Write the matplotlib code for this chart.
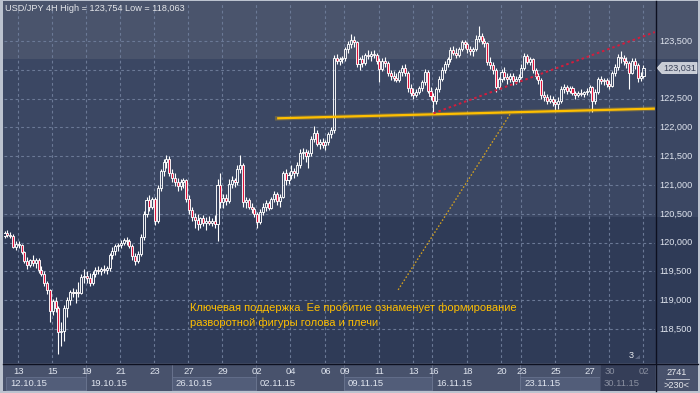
import matplotlib
matplotlib.use("Agg")
import matplotlib.pyplot as plt
from matplotlib.patches import Rectangle, Polygon
from matplotlib.transforms import blended_transform_factory
from matplotlib.lines import Line2D

plt.rcParams['font.family'] = ['Liberation Sans', 'DejaVu Sans']

# ---------------- data (USD/JPY 4H bars, 12.10.15 - 02.12.15) ----------------
opens = [
    120.12, 120.16, 120.14, 120.12, 119.93,
    119.98, 119.95, 119.83, 119.68, 119.62, 119.70,
    119.64, 119.70, 119.52, 119.46, 119.30, 119.18,
    118.82, 118.98, 118.86, 118.44, 118.46, 118.86,
    119.00, 119.14, 119.12, 119.15, 119.13, 119.40,
    119.42, 119.38, 119.30, 119.46, 119.52, 119.50,
    119.54, 119.53, 119.56, 119.78, 119.85, 119.94,
    119.96, 120.00, 120.04, 120.02, 119.94, 119.76,
    119.68, 119.80, 120.10, 120.50, 120.74, 120.62,
    120.76, 120.38, 120.95, 121.24, 121.40, 121.46,
    121.20, 121.12, 121.05, 120.98, 121.06, 121.08,
    120.76, 120.56, 120.44, 120.40, 120.32, 120.42,
    120.34, 120.38, 120.34, 120.38, 120.32, 121.00,
    120.70, 120.78, 120.72, 121.02, 121.08, 121.05,
    121.28, 121.35, 120.70, 120.74, 120.62, 120.58,
    120.50, 120.36, 120.54, 120.62, 120.68, 120.60,
    120.76, 120.84, 120.72, 120.80, 121.20, 121.08,
    121.18, 121.24, 121.20, 121.35, 121.55, 121.58,
    121.50, 121.55, 121.80, 121.90, 121.72, 121.75,
    121.70, 121.74, 121.88, 121.95, 123.20, 123.15,
    123.18,
    123.20, 123.36, 123.44, 123.52, 123.48, 123.10,
    123.18, 123.12, 123.26, 123.24, 123.28, 123.26,
    123.16, 123.02, 123.16, 123.12, 122.95, 122.90,
    122.86, 122.82, 122.96, 123.04, 122.94, 122.68,
    122.60, 122.56, 122.62, 122.68, 122.78, 122.96,
    122.64,
    122.55, 122.45, 122.66, 122.84, 123.00, 123.10,
    123.18, 123.34, 123.30, 123.26, 123.36, 123.48,
    123.44, 123.36, 123.32, 123.36, 123.54, 123.58,
    123.50, 123.46, 123.14, 123.08, 123.00, 122.70,
    122.84, 122.96, 122.88, 122.84, 122.90, 122.80,
    122.84,
    122.88, 123.04, 123.24, 123.14, 123.18, 123.00,
    122.90, 122.82, 122.56, 122.52, 122.46, 122.50,
    122.44, 122.40, 122.46, 122.66, 122.70, 122.64,
    122.68, 122.60, 122.56, 122.60, 122.58, 122.62,
    122.64, 122.70, 122.45, 122.62, 122.84, 122.80,
    122.82,
    122.76, 122.72, 122.94, 123.05, 123.22, 123.20,
    123.16, 123.12, 122.95, 123.16, 123.08, 122.86,
    122.90,
]
highs = [
    120.20, 120.22, 120.18, 120.15, 120.02,
    120.02, 119.97, 119.86, 119.75, 119.72, 119.78,
    119.74, 119.73, 119.60, 119.50, 119.33, 119.20,
    119.02, 119.05, 118.90, 118.62, 118.92, 119.05,
    119.18, 119.22, 119.20, 119.32, 119.45, 119.55,
    119.50, 119.48, 119.50, 119.58, 119.60, 119.58,
    119.62, 119.60, 119.82, 119.92, 119.98, 120.00,
    120.05, 120.08, 120.10, 120.06, 119.98, 119.82,
    119.85, 120.15, 120.55, 120.80, 120.82, 120.80,
    120.80, 121.00, 121.28, 121.45, 121.52, 121.50,
    121.28, 121.20, 121.12, 121.10, 121.12, 121.10,
    120.82, 120.62, 120.52, 120.50, 120.45, 120.48,
    120.44, 120.46, 120.42, 120.48, 121.10, 121.20,
    120.85, 120.85, 121.10, 121.15, 121.12, 121.35,
    121.52, 121.38, 120.80, 120.78, 120.68, 120.62,
    120.54, 120.58, 120.68, 120.74, 120.72, 120.80,
    120.90, 120.88, 120.85, 121.25, 121.28, 121.22,
    121.35, 121.30, 121.40, 121.62, 121.65, 121.62,
    121.60, 121.85, 122.02, 121.95, 121.80, 121.82,
    121.78, 121.92, 122.00, 123.25, 123.28, 123.22,
    123.24,
    123.40, 123.50, 123.62, 123.58, 123.50, 123.22,
    123.25, 123.30, 123.35, 123.32, 123.34, 123.30,
    123.20, 123.20, 123.22, 123.16, 123.00, 122.98,
    122.95, 123.00, 123.08, 123.10, 122.98, 122.75,
    122.68, 122.66, 122.72, 122.82, 123.02, 123.00,
    122.70,
    122.60, 122.70, 122.90, 123.05, 123.15, 123.22,
    123.40, 123.42, 123.38, 123.40, 123.52, 123.52,
    123.48, 123.42, 123.40, 123.60, 123.754, 123.64,
    123.55, 123.48, 123.22, 123.14, 123.04, 122.88,
    123.02, 123.05, 122.95, 122.95, 122.94, 122.90,
    122.92,
    123.10, 123.30, 123.28, 123.22, 123.20, 123.04,
    122.94, 122.86, 122.64, 122.58, 122.56, 122.54,
    122.50, 122.52, 122.72, 122.76, 122.74, 122.72,
    122.72, 122.64, 122.64, 122.66, 122.64, 122.68,
    122.74, 122.72, 122.66, 122.88, 122.90, 122.86,
    122.85,
    122.82, 122.98, 123.10, 123.28, 123.33, 123.26,
    123.22, 123.15, 123.20, 123.20, 123.12, 122.96,
    123.08,
]
lows = [
    120.08, 120.10, 120.08, 119.90, 119.88,
    119.90, 119.80, 119.64, 119.55, 119.58, 119.60,
    119.56, 119.48, 119.42, 119.25, 119.10, 118.62,
    118.75, 118.80, 118.06, 118.20, 118.30, 118.70,
    118.92, 119.05, 118.95, 119.05, 119.10, 119.30,
    119.30, 119.25, 119.27, 119.40, 119.45, 119.44,
    119.48, 119.45, 119.50, 119.72, 119.78, 119.86,
    119.90, 119.95, 119.96, 119.90, 119.70, 119.62,
    119.64, 119.76, 120.05, 120.45, 120.55, 120.58,
    120.30, 120.34, 120.90, 121.15, 121.30, 121.15,
    121.05, 120.98, 120.90, 120.92, 120.95, 120.70,
    120.50, 120.38, 120.25, 120.22, 120.25, 120.28,
    120.22, 120.30, 120.28, 120.25, 120.02, 120.60,
    120.60, 120.65, 120.68, 120.95, 120.96, 121.00,
    121.20, 120.62, 120.60, 120.58, 120.52, 120.45,
    120.25, 120.32, 120.48, 120.55, 120.56, 120.58,
    120.70, 120.66, 120.62, 120.78, 121.00, 121.02,
    121.10, 121.12, 121.15, 121.30, 121.45, 121.40,
    121.30, 121.50, 121.75, 121.68, 121.62, 121.65,
    121.60, 121.70, 121.82, 121.90, 123.10, 123.08,
    123.12,
    123.15, 123.30, 123.38, 123.40, 123.05, 123.00,
    123.05, 123.08, 123.18, 123.15, 123.20, 123.10,
    122.78, 122.98, 123.05, 122.90, 122.82, 122.80,
    122.78, 122.78, 122.90, 122.90, 122.62, 122.55,
    122.50, 122.52, 122.58, 122.64, 122.74, 122.60,
    122.48,
    122.24, 122.40, 122.62, 122.80, 122.95, 123.05,
    123.14, 123.25, 123.20, 123.22, 123.32, 123.38,
    123.30, 123.26, 123.24, 123.32, 123.48, 123.44,
    123.40, 123.08, 123.02, 122.92, 122.62, 122.66,
    122.78, 122.82, 122.76, 122.78, 122.74, 122.76,
    122.78,
    122.85, 123.00, 123.10, 123.08, 122.95, 122.84,
    122.76, 122.50, 122.45, 122.40, 122.42, 122.38,
    122.28, 122.32, 122.42, 122.60, 122.58, 122.60,
    122.56, 122.50, 122.52, 122.54, 122.52, 122.56,
    122.60, 122.27, 122.40, 122.58, 122.76, 122.74,
    122.70,
    122.66, 122.70, 122.90, 123.00, 123.12, 123.08,
    123.04, 122.66, 122.92, 123.02, 122.78, 122.80,
    122.86,
]
closes = [
    120.16, 120.14, 120.12, 119.93, 119.98,
    119.95, 119.83, 119.68, 119.62, 119.70, 119.64,
    119.70, 119.52, 119.46, 119.30, 119.18, 118.82,
    118.98, 118.86, 118.44, 118.46, 118.86, 119.00,
    119.14, 119.12, 119.15, 119.13, 119.40, 119.42,
    119.38, 119.30, 119.46, 119.52, 119.50, 119.54,
    119.53, 119.56, 119.78, 119.85, 119.94, 119.96,
    120.00, 120.04, 120.02, 119.94, 119.76, 119.68,
    119.80, 120.10, 120.50, 120.74, 120.62, 120.76,
    120.38, 120.95, 121.24, 121.40, 121.46, 121.20,
    121.12, 121.05, 120.98, 121.06, 121.08, 120.76,
    120.56, 120.44, 120.40, 120.32, 120.42, 120.34,
    120.38, 120.34, 120.38, 120.32, 121.00, 120.70,
    120.78, 120.72, 121.02, 121.08, 121.05, 121.28,
    121.35, 120.70, 120.74, 120.62, 120.58, 120.50,
    120.36, 120.54, 120.62, 120.68, 120.60, 120.76,
    120.84, 120.72, 120.80, 121.20, 121.08, 121.18,
    121.24, 121.20, 121.35, 121.55, 121.58, 121.50,
    121.55, 121.80, 121.90, 121.72, 121.75, 121.70,
    121.74, 121.88, 121.95, 123.20, 123.15, 123.18,
    123.20,
    123.36, 123.44, 123.52, 123.48, 123.10, 123.18,
    123.12, 123.26, 123.24, 123.28, 123.26, 123.16,
    123.02, 123.16, 123.12, 122.95, 122.90, 122.86,
    122.82, 122.96, 123.04, 122.94, 122.68, 122.60,
    122.56, 122.62, 122.68, 122.78, 122.96, 122.64,
    122.55,
    122.45, 122.66, 122.84, 123.00, 123.10, 123.18,
    123.34, 123.30, 123.26, 123.36, 123.48, 123.44,
    123.36, 123.32, 123.36, 123.54, 123.58, 123.50,
    123.46, 123.14, 123.08, 123.00, 122.70, 122.84,
    122.96, 122.88, 122.84, 122.90, 122.80, 122.84,
    122.88,
    123.04, 123.24, 123.14, 123.18, 123.00, 122.90,
    122.82, 122.56, 122.52, 122.46, 122.50, 122.44,
    122.40, 122.46, 122.66, 122.70, 122.64, 122.68,
    122.60, 122.56, 122.60, 122.58, 122.62, 122.64,
    122.70, 122.45, 122.62, 122.84, 122.80, 122.82,
    122.76,
    122.72, 122.94, 123.05, 123.22, 123.20, 123.16,
    123.12, 122.95, 123.16, 123.08, 122.86, 122.90,
    123.03,
]

# day labels (bar index of the first bar of the day)
day_bars = [5, 17, 29, 41, 53, 65, 77, 89, 101, 113, 120, 132, 144, 151,
            163, 175, 182, 194, 206, 213, 225]
day_labels = ["13", "15", "19", "21", "23", "27", "29", "02", "04", "06", "09",
              "11", "13", "16", "18", "20", "23", "25", "27", "30", "02"]
week_labels = ["12.10.15", "19.10.15", "26.10.15", "02.11.15", "09.11.15",
               "16.11.15", "23.11.15", "30.11.15"]
price_grid = [118.5, 119.0, 119.5, 120.0, 120.5, 121.0, 121.5, 122.0,
              122.5, 123.0, 123.5]
price_ticks = [118.5, 119.0, 119.5, 120.0, 120.5, 121.0, 121.5, 122.0,
               122.5, 123.5]
price_labels = ["118,500", "119,000", "119,500", "120,000", "120,500", "121,000",
                "121,500", "122,000", "122,500", "123,500"]
last_price = 123.031
last_label = "123,031"

# drawn lines (bar index, price)
support_x = [96, 229]
support_y = [122.158, 122.326]
trend_x = [151, 229]
trend_y = [122.245, 123.655]
leader_x = [138.6, 178.3]
leader_y = [119.18, 122.25]

title = "USD/JPY 4H High = 123,754 Low = 118,063"
note1 = "Ключевая поддержка. Ее пробитие ознаменует формирование"
note2 = "разворотной фигуры голова и плечи"

# ---------------- layout ----------------
W, H = 700, 393
fig = plt.figure(figsize=(W / 100, H / 100), dpi=100)
fig.patch.set_facecolor('#bcc3cf')


def frect(x0, y0, x1, y1, color, z=0, alpha=1.0, ec='none', lw=0):
    fig.patches.append(Rectangle((x0 / W, 1 - y1 / H), (x1 - x0) / W, (y1 - y0) / H,
                                 transform=fig.transFigure, facecolor=color,
                                 edgecolor=ec, linewidth=lw, zorder=z, alpha=alpha))


def fline(x0, y0, x1, y1, color, lw=1.0, z=5):
    fig.lines.append(Line2D([x0 / W, x1 / W], [1 - y0 / H, 1 - y1 / H],
                            transform=fig.transFigure, color=color, linewidth=lw, zorder=z))


# background bands
frect(3, 1, 698, 59, '#4a546c', z=-10)
frect(3, 59, 698, 217, '#3b4763', z=-10)
frect(3, 217, 698, 363, '#2f3b57', z=-10)
frect(3, 363, 698, 391, '#48526c', z=-10)

L, R, T, B = 4, 655, 3, 363
ax = fig.add_axes([L / W, 1 - B / H, (R - L) / W, (B - T) / H])
ax.set_zorder(1)
ax.set_facecolor('none')
for s in ax.spines.values():
    s.set_visible(False)
XMIN, XMAX = -0.18, 229.05
ax.set_xlim(XMIN, XMAX)
ax.set_ylim(117.91, 124.16)
ax.set_xticks([])
ax.set_yticks([])

grid_c = '#6b7996'
for p in price_grid:
    ax.axhline(p, color=grid_c, lw=0.8, ls=(0, (2.5, 2.5)), zorder=1)
for b in day_bars:
    ax.axvline(b - 0.3, color=grid_c, lw=0.8, ls=(0, (2.5, 2.5)), zorder=1)

# candles
w = 0.72
for i, (o, h, l, c) in enumerate(zip(opens, highs, lows, closes)):
    top, bot = max(o, c), min(o, c)
    ax.vlines(i, top, h, color='white', lw=0.8, zorder=3)
    ax.vlines(i, l, bot, color='white', lw=0.8, zorder=3)
    hgt = max(top - bot, 0.006)
    fc = '#e0143c' if c < o else 'none'
    ax.add_patch(Rectangle((i - w / 2, bot), w, hgt, facecolor=fc,
                           edgecolor='white', linewidth=0.65, zorder=4))

# support / trend / leader lines
ax.plot(support_x, support_y, color='#ffbf00', lw=1.6, zorder=6, solid_capstyle='butt')
ax.plot(support_x, support_y, color='#ffbf00', lw=3.2, alpha=0.25, zorder=5)
ax.plot(trend_x, trend_y, color='#d41c3c', lw=1.4, ls=(0, (1.3, 1.5)), zorder=6)
ax.plot(leader_x, leader_y, color='#d8a41c', lw=0.95, ls=(0, (1.2, 1.5)), zorder=6)

# annotation
fig.text(190 / W, 1 - 308 / H, note1, color='#ffbf00', fontsize=8.0, va='center', ha='left', zorder=3)
fig.text(190 / W, 1 - 323 / H, note2, color='#ffbf00', fontsize=8.0, va='center', ha='left', zorder=3)

# title
fig.text(5 / W, 1 - 8.5 / H, title, color='#e4e6ea', fontsize=6.6, va='center', ha='left', zorder=3)

# frame lines
fline(655.5, 1, 655.5, 391, '#0d1020', lw=1.0, z=10)
fline(3, 363.5, 698, 363.5, '#0d1020', lw=1.0, z=10)

# right axis labels
btr = blended_transform_factory(fig.transFigure, ax.transData)
for p, lab in zip(price_ticks, price_labels):
    fig.text(659 / W, p, lab, transform=btr, color='#dfe4ee', fontsize=6.6,
             va='center', ha='left', zorder=3)

# current price tag
yy = ax.transData.transform((0, last_price))[1]
yc = H - yy
tag = [(657, yc), (662, yc - 5.5), (697, yc - 5.5), (697, yc + 5.5), (662, yc + 5.5)]
fig.patches.append(Polygon([(x / W, 1 - y / H) for x, y in tag], closed=True,
                           transform=fig.transFigure, facecolor='#c9cdd6',
                           edgecolor='#e8eaee', linewidth=0.5, zorder=8))
fig.text(679.5 / W, 1 - yc / H, last_label, color='#3a4258', fontsize=6.6,
         va='center', ha='center', zorder=9)


def bar_px(b):
    return L + (b - XMIN) * (R - L) / (XMAX - XMIN)


# bottom axis: week boxes
week_px = [6, 86, 171.5, 256, 343.5, 432, 520, 600]
week_end = [86, 171.5, 256, 343.5, 432, 520, 600, 655]
for k, (x0, x1) in enumerate(zip(week_px, week_end)):
    if k % 2 == 0 and k < 7:
        frect(x0, 377, x1, 390, '#525d79', z=2, ec='#66718d', lw=0.6)
    if k > 0:
        fline(x0, 364, x0, 390, '#68738e', lw=0.7, z=3)
    fig.text((x0 + 4) / W, 1 - 383.5 / H, week_labels[k], color='#dfe4ee',
             fontsize=6.8, va='center', ha='left', zorder=4)

for b, lab in zip(day_bars, day_labels):
    fig.text(bar_px(b) / W, 1 - 372 / H, lab, color='#dfe4ee', fontsize=6.8,
             va='center', ha='center', zorder=4)

# dim overlay at the end of the time scale
frect(600, 364, 655, 391, '#1f2640', z=6, alpha=0.45)

# "3" marker
fig.text(631 / W, 1 - 356 / H, "3", color='#e8eaee', fontsize=6.6, va='center', ha='center', zorder=7)
fig.patches.append(Polygon([(635 / W, 1 - 359 / H), (640 / W, 1 - 359 / H), (640 / W, 1 - 355 / H)],
                           closed=True, transform=fig.transFigure, facecolor='#5a6580',
                           edgecolor='none', zorder=7))

# bottom-right cell
fig.text(677 / W, 1 - 372.5 / H, "2741", color='#e8eaee', fontsize=6.6, va='center', ha='center', zorder=7)
fline(666, 379, 689, 379, '#c8ccd6', lw=0.6, z=7)
fig.text(677 / W, 1 - 385.5 / H, ">230<", color='#e8eaee', fontsize=6.6, va='center', ha='center', zorder=7)

fig.savefig("out.png", dpi=100, facecolor=fig.get_facecolor())
